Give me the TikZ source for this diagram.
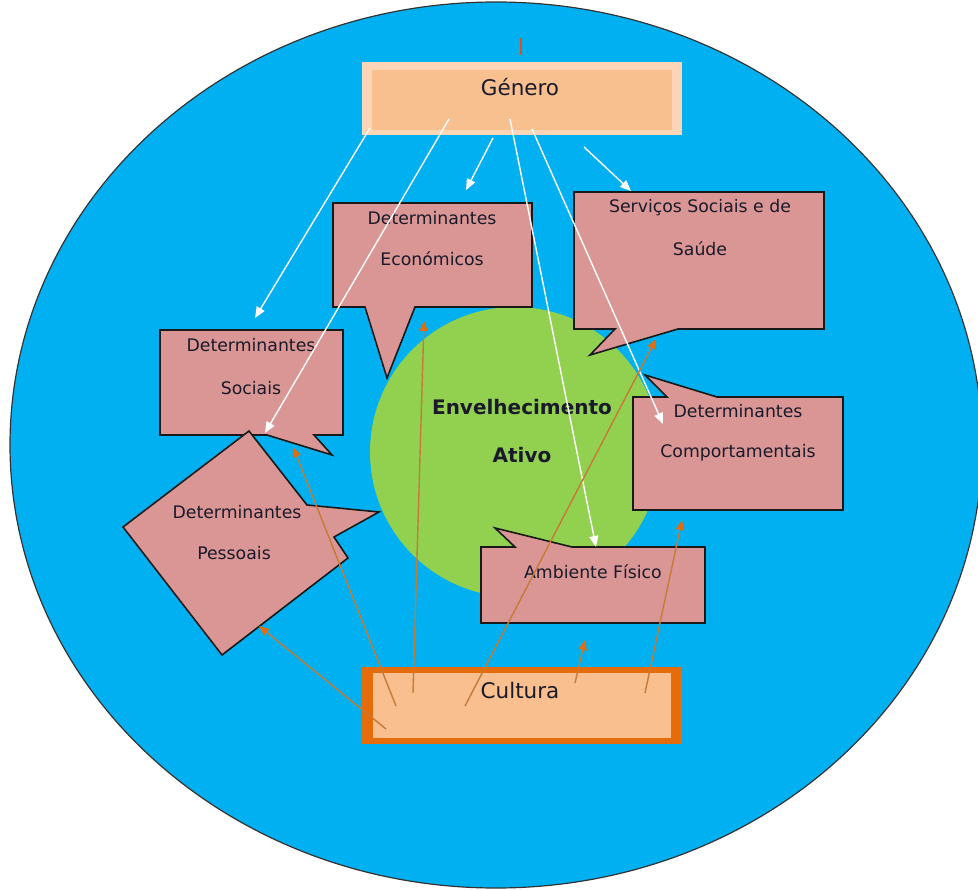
\documentclass[tikz,border=0pt]{standalone}
\usepackage{fontspec}
\setmainfont{DejaVu Sans}
\usetikzlibrary{arrows.meta}
\definecolor{bluebg}{HTML}{00B0F0}
\definecolor{greenc}{HTML}{92D050}
\definecolor{pinkc}{HTML}{D99694}
\definecolor{genout}{HTML}{FBD5B5}
\definecolor{genin}{HTML}{F8C08F}
\definecolor{cultborder}{HTML}{E46C0A}
\definecolor{cultfill}{HTML}{F9BF8F}
\definecolor{orline}{HTML}{C67A36}
\definecolor{orhead}{HTML}{E46C0A}
\definecolor{tickc}{HTML}{E0501A}
\definecolor{txt}{HTML}{1A1A2A}
\begin{document}
\begin{tikzpicture}[x=1pt,y=-1pt,
  callout/.style={fill=pinkc, draw=black!90, line width=1.6pt, line join=miter},
  lbl/.style={font=\fontsize{17.3}{20}\selectfont, text=txt, inner sep=0pt},
  biglbl/.style={font=\fontsize{21.5}{25}\selectfont, text=txt, inner sep=0pt},
  centerlbl/.style={font=\fontsize{20}{24}\bfseries\selectfont, text=txt, inner sep=0pt},
  warrow/.style={draw=white, line width=1.4pt, -{Triangle[length=11pt,width=9pt]}},
  oarrow/.style={draw=orline, line width=1.4pt, -{Triangle[length=10pt,width=8pt,color=orhead,fill=orhead]}}]
\useasboundingbox (0,0) rectangle (978,890);
\fill[white] (0,0) rectangle (978,890);
% background ellipse and centre circle
\draw[fill=bluebg, draw=black!80, line width=1.2pt] (496,445) ellipse [x radius=486pt, y radius=443pt];
\fill[greenc] (515,452) circle [radius=145pt];
% Genero box
\fill[genout] (362,62) rectangle (682,135);
\fill[genin] (372,70) rectangle (672,130);
\draw[tickc, line width=2.5pt] (521,38) -- (521,55);
\node[biglbl] (genero) at (520,87) {Género};
% callouts
\draw[callout] (333,203) -- (532,203) -- (532,307) -- (415,307) -- (387,378) -- (365,307) -- (333,307) -- cycle;
\node[lbl] (eco1) at (432,218) {Determinantes};
\node[lbl] (eco2) at (432,259) {Económicos};
\draw[callout] (574,192) -- (824,192) -- (824,329) -- (678,329) -- (590,355) -- (615,329) -- (574,329) -- cycle;
\node[lbl] (ser1) at (700,208) {Serviços Sociais e de};
\node[lbl] (ser2) at (700,249) {Saúde};
\draw[callout] (160,330) -- (343,330) -- (343,435) -- (314,435) -- (332,455) -- (267,435) -- (160,435) -- cycle;
\node[lbl] (soc1) at (251,345) {Determinantes};
\node[lbl] (soc2) at (251,388) {Sociais};
\draw[callout] (249,431) -- (307,505) -- (379,512) -- (334,537) -- (348,558) -- (222,655) -- (123,527) -- cycle;
\node[lbl] (pes1) at (237,512) {Determinantes};
\node[lbl] (pes2) at (234,553) {Pessoais};
\draw[callout] (633,397) -- (667,397) -- (645,375) -- (717,397) -- (843,397) -- (843,510) -- (633,510) -- cycle;
\node[lbl] (com1) at (738,411) {Determinantes};
\node[lbl] (com2) at (738,453) {Comportamentais};
\draw[callout] (481,547) -- (515,547) -- (495,528) -- (572,547) -- (705,547) -- (705,623) -- (481,623) -- cycle;
\node[lbl] (amb) at (593,572) {Ambiente Físico};
% centre text
\node[centerlbl] (env1) at (522,407) {Envelhecimento};
\node[centerlbl] (env2) at (522,455) {Ativo};
% Cultura box
\fill[cultborder] (362,667) rectangle (682,744);
\fill[cultfill] (373,673) rectangle (671,738);
\node[biglbl] (cultura) at (520,690) {Cultura};
% connector end points
\coordinate (g1) at (370,128); \coordinate (t1) at (255,318);
\coordinate (g2) at (449,119); \coordinate (t2) at (265,433);
\coordinate (g3) at (493,138); \coordinate (t3) at (466,190);
\coordinate (g4) at (510,119); \coordinate (t4) at (596,547);
\coordinate (g5) at (532,129); \coordinate (t5) at (663,424);
\coordinate (g6) at (584,147); \coordinate (t6) at (631,191);
\coordinate (c1) at (386,729); \coordinate (u1) at (259,626);
\coordinate (c2) at (396,706); \coordinate (u2) at (293,447);
\coordinate (c3) at (413,693); \coordinate (u3) at (424,321);
\coordinate (c4) at (465,706); \coordinate (u4) at (656,339);
\coordinate (c5) at (575,683); \coordinate (u5) at (585,640);
\coordinate (c6) at (645,693); \coordinate (u6) at (682,520);
% white arrows from Genero
\draw[warrow] (g1) -- (t1);
\draw[warrow] (g2) -- (t2);
\draw[warrow] (g3) -- (t3);
\draw[warrow] (g4) -- (t4);
\draw[warrow] (g5) -- (t5);
\draw[warrow] (g6) -- (t6);
% orange arrows from Cultura
\draw[oarrow] (c1) -- (u1);
\draw[oarrow] (c2) -- (u2);
\draw[oarrow] (c3) -- (u3);
\draw[oarrow] (c4) -- (u4);
\draw[oarrow] (c5) -- (u5);
\draw[oarrow] (c6) -- (u6);
\end{tikzpicture}
\end{document}
